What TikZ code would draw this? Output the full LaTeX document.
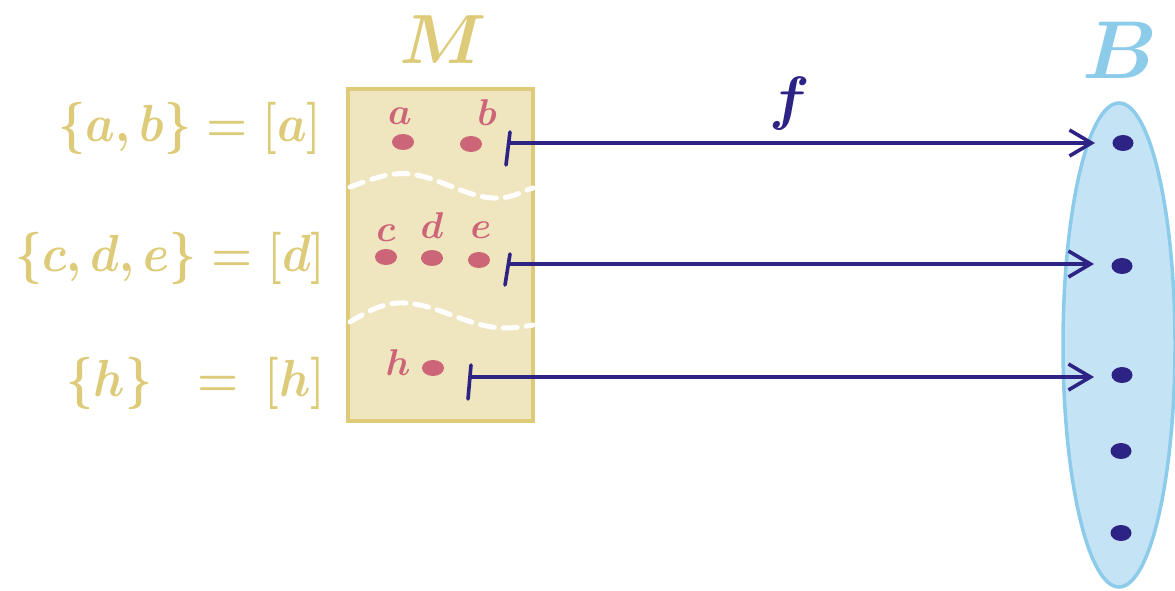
\documentclass[tikz,border=0pt]{standalone}
\usetikzlibrary{arrows.meta,shapes.geometric}
\definecolor{ylw}{HTML}{DDCB79}
\definecolor{ylwfill}{HTML}{EFE5BE}
\definecolor{pnk}{HTML}{CD6579}
\definecolor{navy}{HTML}{2D2385}
\definecolor{bstroke}{HTML}{8DCBEA}
\definecolor{bfill}{HTML}{C4E4F6}
\tikzset{
  setbox/.style={draw=ylw,fill=ylwfill,line width=4pt,minimum width=185pt,minimum height=332pt,inner sep=0pt},
  wave/.style={draw=white,line width=5pt,line cap=round,dash pattern=on 14pt off 9pt},
  pdot/.style={ellipse,fill=pnk,minimum width=22pt,minimum height=16pt,inner sep=0pt},
  plbl/.style={text=pnk,font=\Huge\boldmath,scale=1.5,inner sep=0pt},
  bdot/.style={ellipse,fill=navy,minimum width=21pt,minimum height=16pt,inner sep=0pt},
  arr/.style={draw=navy,line width=3.6pt,-{Straight Barb[length=22pt,width=26pt,line width=3.6pt]},shorten >=28pt},
  tick/.style={draw=navy,line width=3.6pt,line cap=round},
  ylbl/.style={text=ylw,font=\Huge\boldmath,scale=2.1,xscale=0.9,inner sep=0pt,anchor=east},
  bset/.style={ellipse,draw=bstroke,fill=bfill,line width=3.5pt,minimum width=112pt,minimum height=484pt,inner sep=0pt}
}
\begin{document}
\begin{tikzpicture}[x=1pt,y=-1pt]
\useasboundingbox (0,0) rectangle (1175,591);
% set M
\node[setbox] (M) at (440.5,255) {};
\node[text=ylw,font=\Huge\boldmath,scale=2.8,inner sep=0pt] (Mlbl) at (443,40) {$M$};
% wavy separators
\draw[wave] (350,187) .. controls (375,178) and (390,172) .. (410,174) .. controls (440,177) and (470,200) .. (500,198) .. controls (515,197) and (525,190) .. (533,188);
\draw[wave] (350,322) .. controls (370,310) and (385,302) .. (405,303) .. controls (440,305) and (470,328) .. (505,328) .. controls (518,328) and (527,326) .. (533,325);
% elements
\node[pdot] (a) at (403,142) {};
\node[pdot] (b) at (471,144) {};
\node[pdot] (c) at (386,257) {};
\node[pdot] (d) at (432,258) {};
\node[pdot] (e) at (479,260) {};
\node[pdot] (h) at (433,368) {};
\node[plbl] (la) at (400,116) {$a$};
\node[plbl] (lb) at (487,113) {$b$};
\node[plbl] (lc) at (386,233) {$c$};
\node[plbl] (ld) at (432,226) {$d$};
\node[plbl] (le) at (481,230) {$e$};
\node[plbl] (lh) at (398,363) {$h$};
% left labels
\node[ylbl] (q1) at (322,128) {$\{a,b\}=[a]$};
\node[ylbl] (q2) at (326,258) {$\{c,d,e\}=[d]$};
\node[ylbl] (q3) at (326,383) {$\{h\}\hspace{16pt}=\hspace{6pt}[h]$};
% set B
\node[bset] (B) at (1119,345) {};
\node[text=bstroke,font=\Huge\boldmath,scale=3.3,inner sep=0pt] (Blbl) at (1120,50) {$B$};
\node[bdot] (b1) at (1123,143) {};
\node[bdot] (b2) at (1122,266) {};
\node[bdot] (b3) at (1122,375) {};
\node[bdot] (b4) at (1121,451) {};
\node[bdot] (b5) at (1121,533) {};
% map f
\coordinate (s1) at (508,143);
\coordinate (s2) at (508,264);
\coordinate (s3) at (470,377);
\draw[tick] (s1) ++(2,-11) -- ++(-4,33);
\draw[tick] (s2) ++(2,-10) -- ++(-5,31);
\draw[tick] (s3) ++(1,-12) -- ++(-3,34);
\draw[arr] (s1) -- (s1 -| b1.center);
\draw[arr] (s2) -- (s2 -| b2.center);
\draw[arr] (s3) -- (s3 -| b3.center);
\node[text=navy,font=\Huge\boldmath,scale=2.4,inner sep=0pt] (f) at (790,104) {$f$};
\end{tikzpicture}
\end{document}
